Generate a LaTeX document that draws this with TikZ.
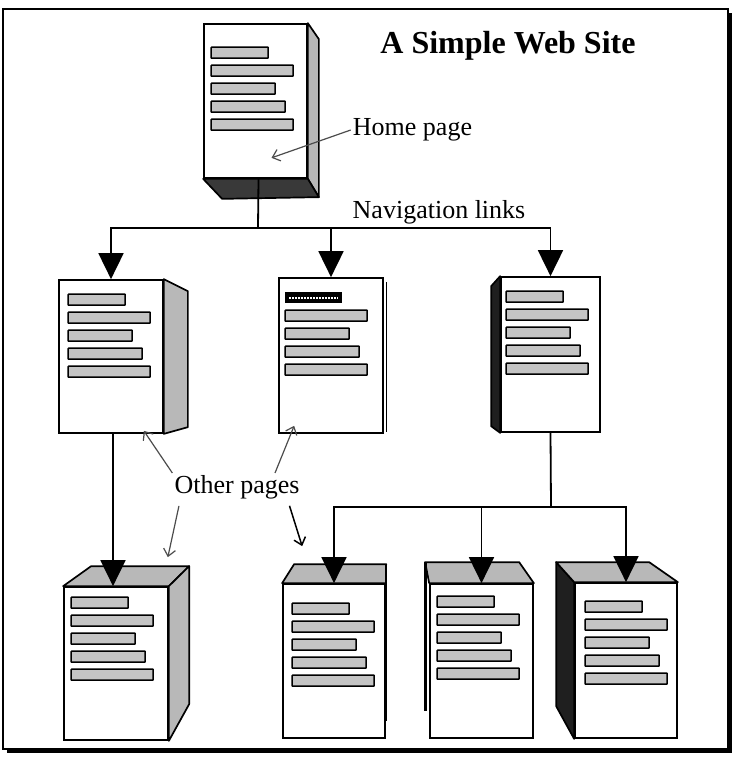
\documentclass[tikz,border=0pt]{standalone}
\usepackage{fontspec}
\setmainfont{Liberation Serif}
\usetikzlibrary{arrows.meta}

\definecolor{bargray}{gray}{0.77}
\definecolor{facegray}{gray}{0.72}
\definecolor{inkgray}{gray}{0.12}
\definecolor{calloutgray}{gray}{0.3}

% five grey text lines on a page, #2/#3 = gap from the top left corner
\newcommand{\textlines}[3]{%
  \foreach \w [count=\i from 0] in {57,82,64,74,82}
    \draw[textline] ([shift={(#2,#3+\i*18)}]#1.north west) rectangle ++(\w,11);
}

\begin{document}
\begin{tikzpicture}[
    x=1pt, y=-1pt,
    >={Triangle[length=26pt,width=25pt]},
    page/.style={draw, line width=1.7pt, fill=white, inner sep=0pt},
    textline/.style={draw, line width=1.6pt, fill=bargray, rounded corners=0.6pt},
    side/.style={draw, line width=1.7pt, fill=facegray, line join=round},
    dark/.style={draw, line width=1.7pt, fill=inkgray, line join=round},
    link/.style={draw, line width=1.8pt, ->},
    callout/.style={draw=calloutgray, line width=1.2pt, -{Straight Barb[length=7pt,width=12pt]}},
    lbl/.style={inner sep=2pt, font=\fontsize{26}{30}\selectfont}
]
\useasboundingbox (0,0) rectangle (735,759);

% frame with its shadow
\draw[line width=1.7pt] (3,9) rectangle (728,749);
\fill (728,13) rectangle (732,753);
\fill (7,749) rectangle (732,753);

% home page
\node[page, minimum width=103, minimum height=154] (home) at (255.5,101) {};
\draw[side] (home.north east) -- ++(11,16) -- ++(0,158) coordinate (homecorner) -- (home.south east) -- cycle;
\draw[dark, fill=gray!45!black] (home.south west) -- ++(19,20) -- (homecorner) -- (home.south east) -- cycle;
\textlines{home}{8}{24}

% second row
\node[page, minimum width=104, minimum height=153] (pl) at (111,356.5) {};
\draw[side] (pl.north east) -- ++(24,12) -- ++(0,136) -- (pl.south east) -- cycle;
\textlines{pl}{10}{15}

\node[page, minimum width=104, minimum height=155] (pc) at (331,355.5) {};
\draw[line width=1.2pt] ([shift={(2.5,5)}]pc.north east) -- ([shift={(2.5,-2)}]pc.south east);
\fill[black] ([shift={(7,15)}]pc.north west) rectangle ++(57,11);
\draw[white, line width=2pt, dash pattern=on 2pt off 1pt] ([shift={(11,20.5)}]pc.north west) -- ++(49,0);
\foreach \w [count=\i from 1] in {82,64,74,82}
  \draw[textline] ([shift={(7,15+\i*18)}]pc.north west) rectangle ++(\w,11);

\node[page, minimum width=99, minimum height=155] (pr) at (550.5,354.5) {};
\draw[dark] (pr.north west) -- ++(-9,10) -- ++(0,140) -- (pr.south west) -- cycle;
\textlines{pr}{6}{15}

% third row
\node[page, minimum width=104, minimum height=153] (bl) at (116,663.5) {};
\draw[side] (bl.north west) -- ++(28,-20) -- ++(98,0) coordinate (blcorner) -- (bl.north east) -- cycle;
\draw[side] (bl.north east) -- (blcorner) -- ++(0,138) -- (bl.south east) -- cycle;
\textlines{bl}{8}{11}

\node[page, minimum width=102, minimum height=154] (bm) at (334,661) {};
\draw[side] (bm.north west) -- ++(12,-19) -- ++(92,0) coordinate (bmcorner) -- (bm.north east) -- cycle;
\draw[line width=1.7pt] (bmcorner) -- ++(0,157);
\textlines{bm}{10}{20}

\node[page, minimum width=103, minimum height=154] (bn) at (481.5,661) {};
\draw[side] (bn.north west) -- ++(-4,-21) coordinate (bncorner) -- ++(94,0) -- (bn.north east) -- cycle;
\draw[line width=3pt] (bncorner) -- ++(0,149);
\textlines{bn}{8}{13}

\node[page, minimum width=102, minimum height=155] (bo) at (626,660.5) {};
\draw[dark] (bo.north west) -- ++(-18,-20) coordinate (bocorner) -- ++(0,144) -- (bo.south west) -- cycle;
\draw[side] (bocorner) -- ++(93,0) -- (bo.north east) -- (bo.north west) -- cycle;
\textlines{bo}{11}{19}

% navigation links
\coordinate (navbar) at (258,228);
\draw[line width=1.8pt] ([xshift=3]home.south) -- (navbar);
\draw[link] (navbar) -| (pl.north);
\draw[link] (navbar) -| (pc.north);
\draw[link] (navbar) -| (pr.north);

\draw[link] ([xshift=2]pl.south) -- ([xshift=2]pl.south |- bl.north);

\coordinate (subbar) at (551,507);
\draw[line width=1.8pt] (pr.south) -- (subbar);
\draw[link] (subbar) -| (bm.north);
\draw[link] (subbar) -| (bn.north);
\draw[link] (subbar) -| (bo.north);

% labels
\node[lbl, font=\fontsize{32}{38}\selectfont\bfseries] (title) at (508,46) {A Simple Web Site};
\node[lbl] (homelbl) at (412.5,130) {Home page};
\node[lbl] (navlbl) at (439,212) {Navigation links};
\node[lbl] (otherlbl) at (237,487) {Other pages};

\draw[callout] (homelbl.west) -- ([shift={(16,-21)}]home.south);
\draw[callout] (otherlbl.north west) -- ([shift={(-20,-3)}]pl.south east);
\draw[callout] ([xshift=38]otherlbl.north) -- ([shift={(16,-8)}]pc.south west);
\draw[callout, shorten <=5pt] ([xshift=-57]otherlbl.south) -- ([shift={(-1,-29)}]bl.north east);
\draw[callout, draw=black, line width=1.5pt, shorten <=5pt] ([xshift=51]otherlbl.south) -- ([shift={(20,-37)}]bm.north west);

\end{tikzpicture}
\end{document}
